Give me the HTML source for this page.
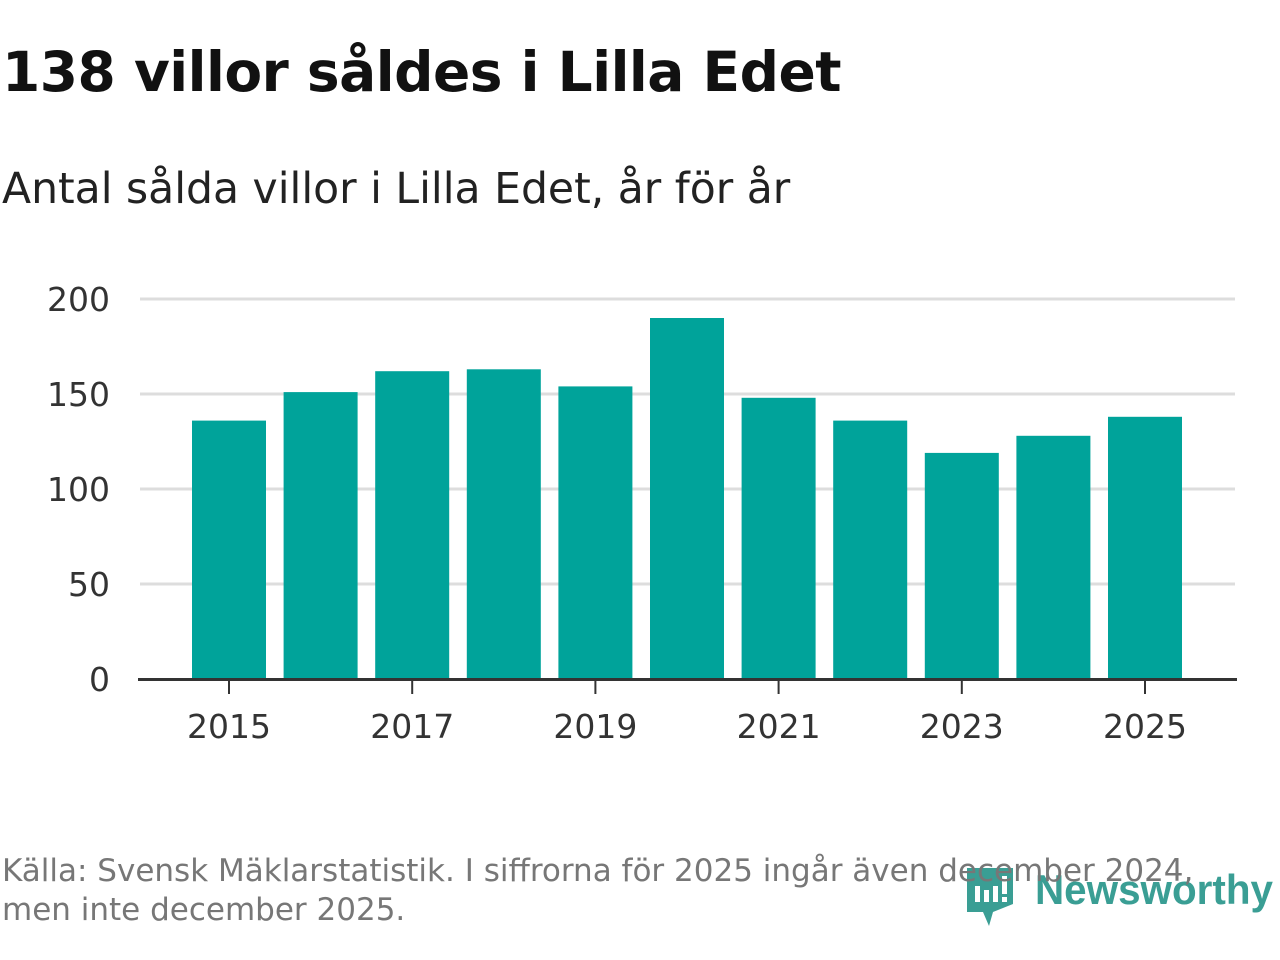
<!DOCTYPE html>
<html><head><meta charset="utf-8"><style>
body{margin:0;width:1280px;height:960px;background:#fff;font-family:"DejaVu Sans","Liberation Sans",sans-serif;position:relative;overflow:hidden}
h1{position:absolute;left:2px;top:40px;margin:0;font-size:55px;font-weight:bold;color:#111;letter-spacing:-0.5px}
.sub{position:absolute;left:2px;top:165px;font-size:42.5px;color:#222}
.src{position:absolute;left:2px;top:852px;font-size:31px;color:#777;line-height:39px;z-index:2}
.logo{position:absolute;left:965px;top:862px;z-index:1}
</style></head><body>
<h1>138 villor såldes i Lilla Edet</h1>
<div class="sub">Antal sålda villor i Lilla Edet, år för år</div>
<svg id="chart" width="1280" height="960" style="position:absolute;left:0;top:0"></svg>
<div class="src">Källa: Svensk Mäklarstatistik. I siffrorna för 2025 ingår även december 2024,<br>men inte december 2025.</div>
<div class="logo">
<svg width="315" height="65">
<path d="M2 6 H48 V42 L28 50 L24 64 L18 50 H2 Z" fill="#3a9e94"/>
<rect x="10" y="24" width="5" height="16" fill="#fff"/><rect x="19" y="28" width="5" height="12" fill="#fff"/><rect x="28" y="24" width="5" height="16" fill="#fff"/><rect x="37" y="14" width="5" height="18" fill="#fff"/><rect x="37" y="35" width="5" height="5" fill="#fff"/>
<text x="70" y="42" font-family="Liberation Sans, sans-serif" font-size="42" font-weight="bold" fill="#3a9e94" textLength="238" lengthAdjust="spacingAndGlyphs">Newsworthy</text>
</svg></div>
<script>
const categories=[2015,2016,2017,2018,2019,2020,2021,2022,2023,2024,2025];
const values=[136,151,162,163,154,190,148,136,119,128,138];
const yTicks=[0,50,100,150,200];
const xTickLabels=[2015,2017,2019,2021,2023,2025];
const svg=document.getElementById('chart');const NS='http://www.w3.org/2000/svg';
const y=v=>679-v*1.9;const x=c=>229+(c-2015)*91.6;
function mk(t,a,p){const e=document.createElementNS(NS,t);for(const k in a)e.setAttribute(k,a[k]);(p||svg).appendChild(e);return e;}
yTicks.forEach(t=>{
 if(t>0){const g=mk('line',{x1:140,x2:1235,y1:y(t),y2:y(t),stroke:'#ddd','stroke-width':3});
 
 }
 const l=mk('text',{x:110,y:y(t)+12,'text-anchor':'end','font-size':33,fill:'#333','font-family':'DejaVu Sans, sans-serif'});l.textContent=t;
 
 
});
categories.forEach((c,i)=>{
 const b=mk('rect',{x:x(c)-37,y:y(values[i]),width:74,height:values[i]*1.9,fill:'#00a39a'});
 
 
});
const ax=mk('line',{x1:138,x2:1237,y1:679.5,y2:679.5,stroke:'#333','stroke-width':3});


xTickLabels.forEach(c=>{
 mk('line',{x1:x(c),x2:x(c),y1:680,y2:694,stroke:'#333','stroke-width':2});
 const l=mk('text',{x:x(c),y:738,'text-anchor':'middle','font-size':33,fill:'#333','font-family':'DejaVu Sans, sans-serif'});l.textContent=c;
 
 
});
</script>
</body></html>
